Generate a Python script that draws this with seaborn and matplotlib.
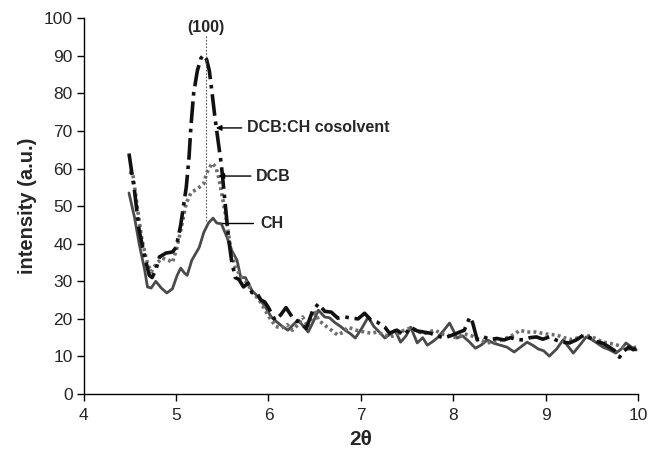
import matplotlib
matplotlib.use("Agg")
import matplotlib.pyplot as plt
import seaborn as sns
import pandas as pd

# values
cos_x = [4.49, 4.55, 4.60, 4.66, 4.71, 4.74, 4.78, 4.82, 4.89, 4.96, 5.00, 5.05, 5.11, 5.14,
         5.16, 5.19, 5.23, 5.27, 5.30, 5.33, 5.36, 5.39, 5.42, 5.44, 5.49, 5.53, 5.57, 5.60,
         5.64, 5.68, 5.73, 5.78, 5.82, 5.87, 5.92, 5.96, 6.00, 6.07, 6.13, 6.19, 6.27, 6.34,
         6.41, 6.48, 6.54, 6.61, 6.68, 6.75, 6.83, 6.90, 6.97, 7.04, 7.11, 7.18, 7.26, 7.31,
         7.39, 7.47, 7.54, 7.61, 7.68, 7.75, 7.83, 7.90, 7.97, 8.04, 8.12, 8.18, 8.21, 8.26,
         8.33, 8.40, 8.47, 8.55, 8.62, 8.69, 8.76, 8.83, 8.90, 8.97, 9.04, 9.12, 9.19, 9.26,
         9.34, 9.41, 9.48, 9.55, 9.62, 9.69, 9.75, 9.80, 9.85, 9.90, 9.95, 9.98]
cos_y = [64, 54, 43.6, 36.5, 31.6, 31, 33, 36.5, 37.5, 37.8, 39, 45, 55, 63,
         71, 80, 86, 89.4, 90.2, 89, 86, 80, 73.7, 70, 61, 51, 41, 35.6,
         31, 30.5, 28.5, 29.5, 27, 27, 25, 24.5, 23, 19.7, 21, 23, 20, 19,
         17.5, 22.3, 24, 22, 21.8, 20.2, 20.5, 20.2, 20, 21.5, 19.7, 19.1, 17.8, 16.2,
         17, 15.7, 17.8, 16.8, 16.5, 16.2, 15.5, 14.9, 15.5, 16.2, 17, 20.5, 19, 14.4,
         15.2, 14.5, 14.8, 14.4, 15, 14.5, 14.4, 15, 15.2, 14.6, 15.2, 14.3, 13.8, 13.6,
         14.5, 15.7, 15, 14, 13.5, 12.5, 11.5, 9.8, 11.5, 12.5, 11.8, 12.2]

dcb_x = [4.49, 4.53, 4.58, 4.63, 4.69, 4.73, 4.76, 4.80, 4.85, 4.92, 4.96, 5.01, 5.05, 5.11,
         5.16, 5.25, 5.30, 5.33, 5.39, 5.43, 5.46, 5.49, 5.54, 5.59, 5.64, 5.71, 5.77, 5.83,
         5.90, 5.96, 6.02, 6.08, 6.14, 6.20, 6.26, 6.32, 6.37, 6.43, 6.50, 6.54, 6.60, 6.68,
         6.75, 6.81, 6.86, 6.95, 7.04, 7.11, 7.18, 7.25, 7.32, 7.40, 7.47, 7.54, 7.62, 7.70,
         7.80, 7.88, 7.96, 8.04, 8.12, 8.20, 8.28, 8.37, 8.45, 8.53, 8.61, 8.67, 8.72, 8.80,
         8.90, 9.00, 9.12, 9.20, 9.28, 9.36, 9.44, 9.52, 9.62, 9.70, 9.78, 9.84, 9.90, 9.98]
dcb_y = [59, 58.8, 49.7, 41, 34.8, 32.5, 33.8, 35, 36.2, 35.6, 35, 39, 43.6, 50.8,
         53.5, 55, 56, 58.8, 61.4, 60.4, 57.7, 54, 47, 39, 33.8, 31, 29.5, 27,
         25, 22.5, 20, 18, 17.5, 18.5, 17, 18.5, 20.5, 17.8, 22.3, 19.7, 18.5, 17,
         15.7, 16.5, 17.8, 17, 16.5, 16.2, 16.5, 15.8, 15.2, 16, 17, 17.6, 16.5, 16.2,
         17, 16, 15.5, 15, 16, 15.5, 14.5, 13.6, 14, 14.5, 15.2, 16, 17, 16.5,
         16.5, 16, 15.7, 15, 14.5, 15, 15.7, 15, 13.8, 13.5, 13, 12.5, 12, 12.5]

ch_x = [4.49, 4.55, 4.60, 4.66, 4.69, 4.73, 4.78, 4.84, 4.90, 4.96, 5.01, 5.05, 5.09, 5.12,
        5.17, 5.25, 5.30, 5.35, 5.40, 5.44, 5.49, 5.55, 5.60, 5.66, 5.70, 5.75, 5.82, 5.89,
        5.97, 6.03, 6.10, 6.15, 6.21, 6.27, 6.32, 6.38, 6.43, 6.49, 6.54, 6.61, 6.66, 6.72,
        6.78, 6.83, 6.89, 6.94, 7.01, 7.08, 7.14, 7.20, 7.26, 7.32, 7.37, 7.43, 7.49, 7.54,
        7.61, 7.67, 7.72, 7.78, 7.83, 7.90, 7.96, 8.00, 8.04, 8.10, 8.17, 8.24, 8.30, 8.37,
        8.44, 8.51, 8.58, 8.66, 8.73, 8.80, 8.86, 8.92, 8.98, 9.04, 9.12, 9.19, 9.25, 9.30,
        9.37, 9.44, 9.50, 9.56, 9.62, 9.69, 9.76, 9.82, 9.87, 9.93, 9.98]
ch_y = [53.5, 47, 40, 33, 28.5, 28.2, 30, 28.2, 26.9, 28, 31.5, 33.5, 32.2, 31.6,
        35.6, 39, 43, 45.5, 46.8, 45.5, 45.3, 41.8, 38.3, 35.6, 31, 31, 27.6, 25.8,
        23, 20.5, 19, 18, 17, 18.5, 19.7, 18, 16.5, 19.5, 22.3, 20.5, 20.3, 19,
        18, 17, 16, 14.9, 17.5, 20.5, 18, 16.5, 14.9, 16, 17, 13.8, 15.5, 17.8,
        13.6, 15, 13, 14, 15, 17, 18.9, 17, 14.9, 15.5, 14, 12.2, 13, 14.4,
        13.5, 13, 12.5, 11.2, 12.5, 13.8, 13, 12, 11.5, 10.1, 12, 14.4, 12.5, 10.9,
        13, 15.2, 14.5, 13.5, 12.5, 11.8, 10.9, 12, 13.6, 12.5, 11.7]

peak_pos = 5.32

sns.set_style("ticks")
plt.rcParams["font.family"] = ["Liberation Sans", "DejaVu Sans"]

fig = plt.figure(figsize=(6.49, 4.54), dpi=100)
ax = fig.add_axes([0.129, 0.132, 0.854, 0.828])

style = dict(sort=False, estimator=None, solid_joinstyle="round",
             dash_joinstyle="round", solid_capstyle="round")
sns.lineplot(x=ch_x, y=ch_y, ax=ax, color="#4a4a4a", linewidth=2.0, **style)
sns.lineplot(x=dcb_x, y=dcb_y, ax=ax, color="#6e6e6e", linewidth=2.6,
             linestyle=(0, (0.8, 0.9)), **style)
sns.lineplot(x=cos_x, y=cos_y, ax=ax, color="#111111", linewidth=2.6,
             linestyle=(0, (6, 1.6, 1.0, 1.6)), **style)

ax.plot([peak_pos, peak_pos], [46, 95.5], color="#555555", linewidth=0.8,
        linestyle=(0, (1.5, 1.5)))
ax.text(peak_pos, 97.6, "(100)", ha="center", va="center", fontsize=11.5,
        fontweight="bold")

arrow = dict(arrowstyle="-|>", color="black", lw=1.0, mutation_scale=8,
             shrinkA=0, shrinkB=0)
ax.annotate("", xy=(5.43, 70.8), xytext=(5.71, 70.8), arrowprops=arrow)
ax.text(5.77, 70.8, "DCB:CH cosolvent", ha="left", va="center",
        fontsize=11.5, fontweight="bold")
ax.annotate("", xy=(5.46, 58.0), xytext=(5.81, 58.0), arrowprops=arrow)
ax.text(5.86, 57.8, "DCB", ha="left", va="center", fontsize=11.5,
        fontweight="bold")
ax.plot([5.50, 5.83], [45.6, 45.6], color="black", linewidth=1.0)
ax.text(5.91, 45.5, "CH", ha="left", va="center", fontsize=11.5,
        fontweight="bold")

ax.set_xlim(4, 10)
ax.set_ylim(0, 100)
ax.set_xticks(range(4, 11))
ax.set_yticks(range(0, 101, 10))
ax.tick_params(axis="both", labelsize=12.5, direction="out", length=5,
               width=1, color="black")
ax.tick_params(axis="x", pad=5)
ax.tick_params(axis="y", pad=3)
for side in ["top", "right"]:
    ax.spines[side].set_visible(False)
for side in ["left", "bottom"]:
    ax.spines[side].set_color("black")
    ax.spines[side].set_linewidth(1.0)

ax.set_xlabel("2θ", fontsize=15, fontweight="bold", labelpad=5)
ax.set_ylabel("intensity (a.u.)", fontsize=14.5, fontweight="bold", labelpad=5)

fig.savefig("out.png", dpi=100)
plt.close(fig)
